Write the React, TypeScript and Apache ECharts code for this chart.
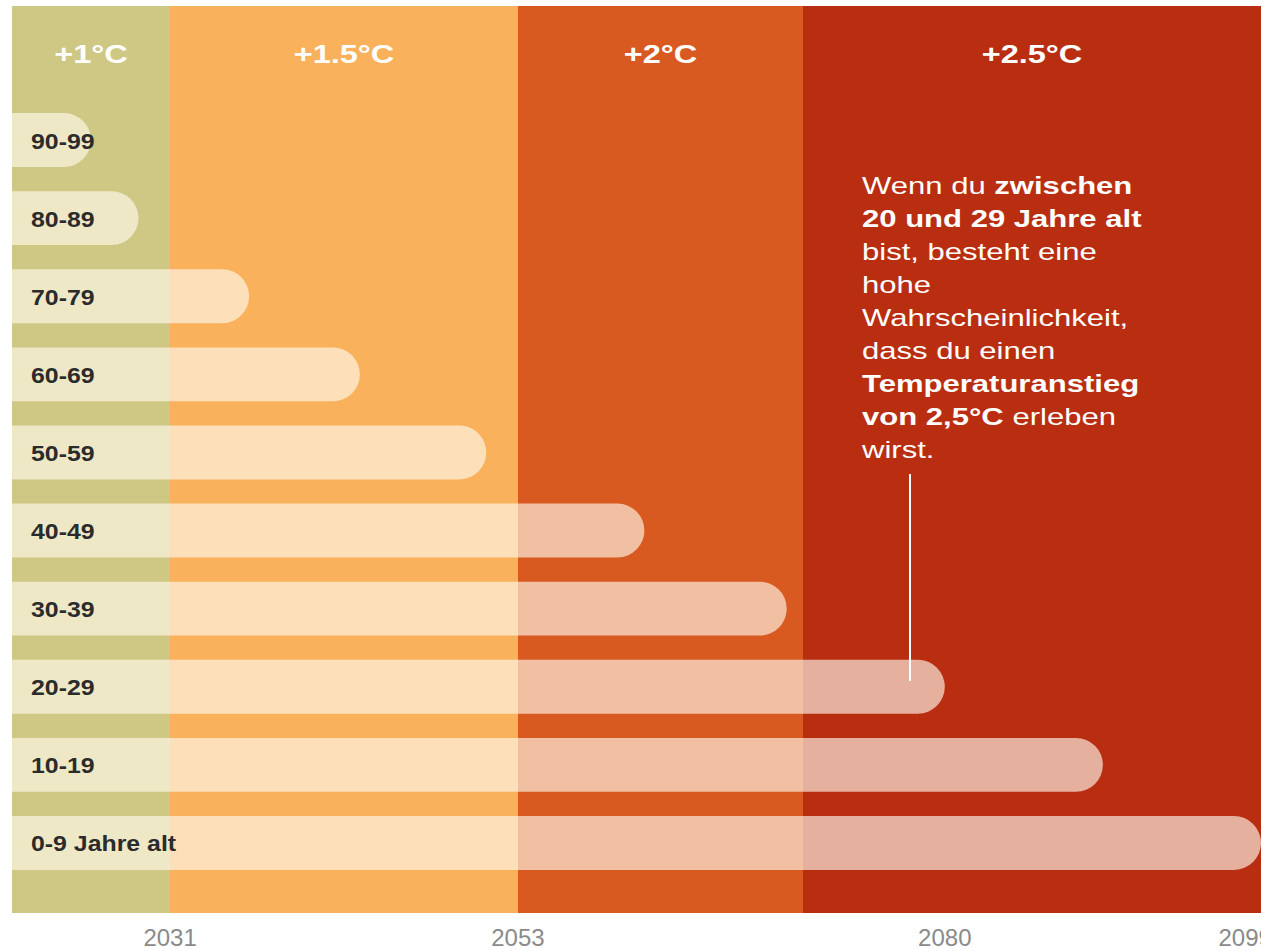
import React, { useEffect, useRef } from 'react';
import * as echarts from 'echarts';

// Age groups, bottom to top, and the year each group's bar reaches
const ageGroups = ['0-9 Jahre alt', '10-19', '20-29', '30-39', '40-49', '50-59', '60-69', '70-79', '80-89', '90-99'];
const lastYear = [2100, 2090, 2080, 2070, 2061, 2051, 2043, 2036, 2029, 2026];

// Warming periods shown as coloured background bands
const warmingLabels = ['+1°C', '+1.5°C', '+2°C', '+2.5°C'];
const warmingFrom = [2021, 2031, 2053, 2071];
const warmingTo = [2031, 2053, 2071, 2100];
const warmingColors = ['#cfc784', '#f9b15b', '#d95a21', '#b92e11'];

// Years printed under the chart
const tickYears = [2031, 2053, 2080, 2099];
const yearMin = 2021;
const yearMax = 2100;

const FONT = '"Liberation Sans", Arial, Helvetica, sans-serif';

// Callout text, as runs of regular (r) and bold (b) segments per line
const noteLines: [string, string][][] = [
  [['r', 'Wenn du '], ['b', 'zwischen']],
  [['b', '20 und 29 Jahre alt']],
  [['r', 'bist, besteht eine']],
  [['r', 'hohe']],
  [['r', 'Wahrscheinlichkeit,']],
  [['r', 'dass du einen']],
  [['b', 'Temperaturanstieg']],
  [['b', 'von 2,5°C'], ['r', ' erleben']],
  [['r', 'wirst.']],
];

export default function App() {
  const ref = useRef<HTMLDivElement>(null);

  useEffect(() => {
    if (!ref.current) return;
    const chart = echarts.init(ref.current, null, { renderer: 'svg' });

    const noteText = noteLines
      .map((line) => line.map(([k, t]) => `{${k}|${t}}`).join(''))
      .join('\n');

    const bandData = warmingFrom.map((s, i) => [s, warmingTo[i], i]);
    const barData = lastYear.map((v, i) => [v, i]);

    chart.setOption({
      animation: false,
      backgroundColor: '#ffffff',
      grid: [
        { left: 12, right: 0, top: 6, bottom: 38, outerBoundsMode: 'none', containLabel: false },
        { left: 12, right: 0, top: 101, bottom: 69, outerBoundsMode: 'none', containLabel: false },
      ],
      xAxis: [
        {
          type: 'value',
          gridIndex: 0,
          min: yearMin,
          max: yearMax,
          splitLine: { show: false },
          axisLine: { show: false },
          axisTick: { show: false },
          axisLabel: {
            customValues: tickYears,
            margin: 12,
            color: '#8a8a8a',
            fontSize: 24,
            fontFamily: FONT,
            hideOverlap: false,
            formatter: (v: number) => String(v),
          },
        },
        {
          type: 'value',
          gridIndex: 1,
          min: yearMin,
          max: yearMax,
          show: false,
          splitLine: { show: false },
        },
      ],
      yAxis: [
        { type: 'value', gridIndex: 0, min: 0, max: 1, show: false, splitLine: { show: false } },
        { type: 'category', gridIndex: 1, data: ageGroups, show: false },
      ],
      series: [
        {
          type: 'custom',
          xAxisIndex: 0,
          yAxisIndex: 0,
          z: 1,
          data: bandData,
          encode: { x: [0, 1] },
          renderItem: (params: any, api: any) => {
            const from = api.value(0);
            const to = api.value(1);
            const idx = api.value(2);
            const p0 = api.coord([from, 1]);
            const p1 = api.coord([to, 0]);
            // whole pixels so neighbouring bands meet without a seam
            const x0 = Math.round(p0[0]);
            const x1 = Math.round(p1[0]);
            return {
              type: 'group',
              children: [
                {
                  type: 'rect',
                  shape: { x: x0, y: p0[1], width: x1 - x0, height: p1[1] - p0[1] },
                  style: { fill: warmingColors[idx] },
                },
                {
                  type: 'text',
                  x: (x0 + x1) / 2,
                  y: p0[1] + 48,
                  scaleX: 1.3,
                  style: {
                    text: warmingLabels[idx],
                    fill: '#ffffff',
                    font: `bold 25px ${FONT}`,
                    align: 'center',
                    verticalAlign: 'middle',
                  },
                },
              ],
            };
          },
        },
        {
          type: 'custom',
          xAxisIndex: 1,
          yAxisIndex: 1,
          z: 3,
          data: barData,
          encode: { x: 0, y: 1 },
          renderItem: (params: any, api: any) => {
            const end = api.value(0);
            const idx = api.value(1);
            const p0 = api.coord([yearMin, idx]);
            const p1 = api.coord([end, idx]);
            const h = api.size([0, 1])[1] * 0.69;
            return {
              type: 'group',
              children: [
                {
                  type: 'rect',
                  shape: {
                    x: p0[0],
                    y: p0[1] - h / 2,
                    width: p1[0] - p0[0],
                    height: h,
                    r: [0, h / 2, h / 2, 0],
                  },
                  style: { fill: 'rgba(255, 250, 238, 0.64)' },
                },
                {
                  type: 'text',
                  x: p0[0] + 19,
                  y: p0[1] + 1,
                  scaleX: 1.13,
                  style: {
                    text: ageGroups[idx],
                    fill: '#2b2b2b',
                    font: `bold 22px ${FONT}`,
                    align: 'left',
                    verticalAlign: 'middle',
                  },
                },
              ],
            };
          },
        },
      ],
      graphic: [
        {
          type: 'line',
          z: 10,
          shape: { x1: 910, y1: 474, x2: 910, y2: 681 },
          style: { stroke: '#ffffff', lineWidth: 2 },
        },
        {
          type: 'text',
          z: 10,
          x: 862,
          y: 170,
          scaleX: 1.35,
          style: {
            text: noteText,
            fill: '#ffffff',
            font: `23px ${FONT}`,
            lineHeight: 33,
            verticalAlign: 'top',
            rich: {
              r: { fontSize: 23, fontFamily: FONT, fontWeight: 'normal', fill: '#ffffff', lineHeight: 33 },
              b: { fontSize: 23, fontFamily: FONT, fontWeight: 'bold', fill: '#ffffff', lineHeight: 33 },
            },
          },
        },
      ],
    });

    return () => chart.dispose();
  }, []);

  return (
    <div
      ref={ref}
      style={{ position: 'fixed', left: 0, top: 0, width: 1261, height: 951, background: '#ffffff' }}
    />
  );
}
